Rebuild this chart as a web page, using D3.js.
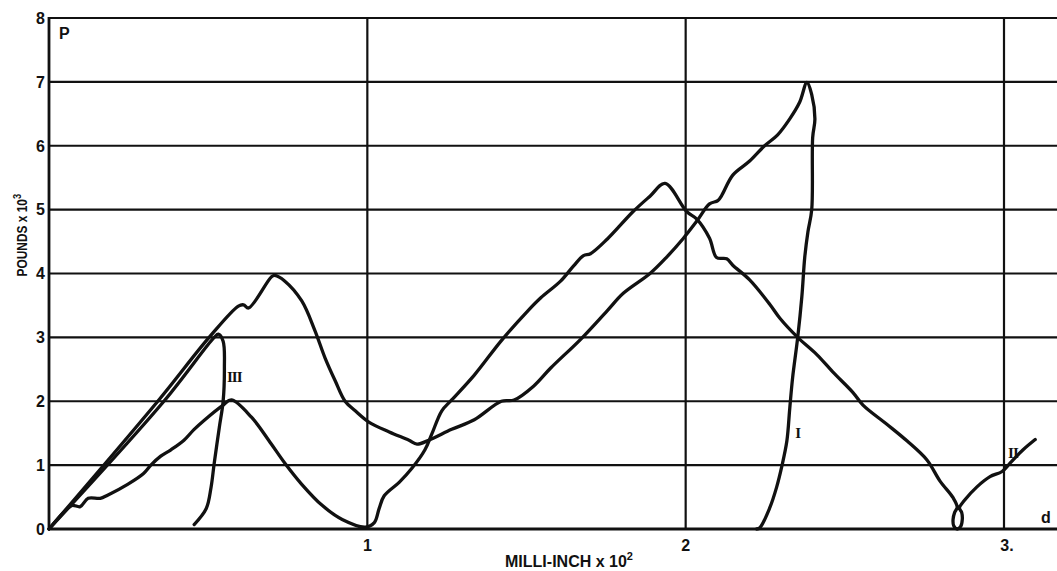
<!DOCTYPE html>
<html>
<head>
<meta charset="utf-8">
<script src="https://cdn.jsdelivr.net/npm/d3@7"></script>
<style>
  html, body { margin: 0; padding: 0; background: #fff; }
  svg { display: block; }
  .tick-label, .axis-title, .corner-label { font-family: "Liberation Sans", Arial, sans-serif; font-weight: bold; fill: #111; }
  .curve-label { font-family: "Liberation Serif", "Times New Roman", serif; font-weight: bold; fill: #111; }
</style>
</head>
<body>
<svg id="chart"></svg>
<script>
// Load (pounds x 10^3) against deflection (milli-inch x 10^2)
const xTicks = [1, 2, 3];
const xTickLabels = ['1', '2', '3.'];
const yTicks = [0, 1, 2, 3, 4, 5, 6, 7, 8];

const curveI = [
  [0, 0], [0.345, 2.02], [0.503, 3.0], [0.595, 3.49], [0.611, 3.51], [0.627, 3.46], [0.699, 3.95],
  [0.709, 3.97], [0.741, 3.88], [0.794, 3.57], [0.835, 3.11], [0.867, 2.68], [0.899, 2.32], [0.930, 2.0],
  [0.962, 1.85], [1.006, 1.67], [1.069, 1.52], [1.131, 1.39], [1.156, 1.33], [1.193, 1.39], [1.265, 1.56],
  [1.336, 1.71], [1.421, 2.0], [1.461, 2.02], [1.523, 2.24], [1.576, 2.52], [1.670, 2.97], [1.754, 3.42],
  [1.804, 3.69], [1.888, 4.0], [1.941, 4.26], [1.991, 4.54], [2.035, 4.82], [2.075, 5.09], [2.101, 5.14],
  [2.113, 5.22], [2.148, 5.54], [2.201, 5.76], [2.248, 6.0], [2.289, 6.17], [2.327, 6.42], [2.358, 6.68],
  [2.381, 6.99], [2.396, 6.8], [2.406, 6.42], [2.399, 6.13], [2.396, 5.0], [2.384, 4.65], [2.374, 4.25],
  [2.365, 3.64], [2.352, 3.0], [2.336, 2.37], [2.327, 1.89], [2.318, 1.38], [2.302, 0.98], [2.286, 0.66],
  [2.264, 0.33], [2.233, 0.02], [2.223, 0]
];

const curveII = [
  [0, 0], [0.05, 0.28], [0.073, 0.37], [0.098, 0.35], [0.123, 0.48], [0.161, 0.48], [0.184, 0.53],
  [0.247, 0.70], [0.297, 0.87], [0.320, 1.0], [0.351, 1.14], [0.383, 1.24], [0.424, 1.39], [0.456, 1.56],
  [0.487, 1.70], [0.547, 1.94], [0.573, 2.02], [0.636, 1.75], [0.690, 1.39], [0.741, 1.03], [0.794, 0.70],
  [0.858, 0.37], [0.921, 0.15], [0.994, 0.03], [1.022, 0.10], [1.037, 0.32], [1.053, 0.52], [1.10, 0.73],
  [1.14, 0.95], [1.181, 1.24], [1.202, 1.48], [1.234, 1.85], [1.265, 2.02], [1.336, 2.41], [1.421, 2.95],
  [1.505, 3.42], [1.545, 3.62], [1.607, 3.88], [1.648, 4.12], [1.679, 4.28], [1.701, 4.31], [1.754, 4.54],
  [1.835, 4.97], [1.888, 5.21], [1.935, 5.41], [2.003, 4.97], [2.035, 4.85], [2.075, 4.55], [2.097, 4.25],
  [2.129, 4.23], [2.148, 4.13], [2.201, 3.90], [2.264, 3.52], [2.296, 3.30], [2.352, 3.0], [2.412, 2.73],
  [2.462, 2.46], [2.525, 2.14], [2.557, 1.94], [2.632, 1.64], [2.695, 1.38], [2.758, 1.08], [2.799, 0.75],
  [2.840, 0.49], [2.853, 0.34], [2.845, 0.26], [2.840, 0.15], [2.842, 0.05], [2.853, 0], [2.864, 0.04],
  [2.869, 0.15], [2.867, 0.26], [2.860, 0.33], [2.876, 0.45], [2.915, 0.66], [2.956, 0.82], [2.994, 0.90],
  [3.019, 1.03], [3.06, 1.24], [3.098, 1.40]
];

const curveIII = [
  [0, 0], [0.361, 2.0], [0.519, 3.0], [0.532, 3.05], [0.547, 2.94], [0.551, 2.52], [0.547, 2.0],
  [0.535, 1.59], [0.519, 1.03], [0.509, 0.65], [0.494, 0.32], [0.456, 0.07]
];

const curveNames = ['I', 'II', 'III'];

class LoadDeflectionChart {

    constructor(_config, _curves) {
        this.config = {
            parentElement: _config.parentElement,
            containerWidth: _config.containerWidth || 1057,
            containerHeight: _config.containerHeight || 571,
            margin: _config.margin || {top: 18, right: 0, bottom: 42, left: 49},
        };
        this.curves = _curves;
        this.initVis();
    }

    initVis() {
        let vis = this;

        vis.width = vis.config.containerWidth - vis.config.margin.left - vis.config.margin.right;
        vis.height = vis.config.containerHeight - vis.config.margin.top - vis.config.margin.bottom;

        // the plate runs off the right edge a little past 3
        vis.xScale = d3.scaleLinear()
            .domain([0, 3])
            .range([0, 955]);

        vis.yScale = d3.scaleLinear()
            .domain([0, 8])
            .range([vis.height, 0]);

        vis.svg = d3.select(vis.config.parentElement)
            .attr('width', vis.config.containerWidth)
            .attr('height', vis.config.containerHeight);

        vis.chart = vis.svg.append('g')
            .attr('transform', `translate(${vis.config.margin.left},${vis.config.margin.top})`);

        vis.line = d3.line()
            .x(d => vis.xScale(d[0]))
            .y(d => vis.yScale(d[1]))
            .curve(d3.curveCatmullRom.alpha(0.5));

        vis.renderVis();
    }

    renderVis() {
        let vis = this;

        // horizontal rules, one per thousand pounds
        vis.chart.selectAll('.h-grid')
            .data(yTicks.filter(d => d > 0))
          .join('line')
            .attr('class', 'h-grid')
            .attr('x1', 0)
            .attr('x2', vis.width)
            .attr('y1', d => vis.yScale(d))
            .attr('y2', d => vis.yScale(d))
            .attr('stroke', '#111')
            .attr('stroke-width', 2.2);

        vis.chart.selectAll('.v-grid')
            .data(xTicks)
          .join('line')
            .attr('class', 'v-grid')
            .attr('x1', d => vis.xScale(d))
            .attr('x2', d => vis.xScale(d))
            .attr('y1', vis.yScale(8))
            .attr('y2', vis.yScale(0))
            .attr('stroke', '#111')
            .attr('stroke-width', 2.2);

        // axes
        vis.chart.append('line')
            .attr('x1', 0).attr('x2', 0)
            .attr('y1', vis.yScale(8) - 1).attr('y2', vis.yScale(0))
            .attr('stroke', '#111')
            .attr('stroke-width', 2.8);

        vis.chart.append('line')
            .attr('x1', 0).attr('x2', vis.width)
            .attr('y1', vis.yScale(0)).attr('y2', vis.yScale(0))
            .attr('stroke', '#111')
            .attr('stroke-width', 3.2);

        vis.chart.selectAll('.y-label')
            .data(yTicks)
          .join('text')
            .attr('class', 'tick-label y-label')
            .attr('x', -4)
            .attr('y', d => vis.yScale(d))
            .attr('dy', '0.36em')
            .attr('text-anchor', 'end')
            .attr('font-size', 16)
            .text(d => d);

        vis.chart.selectAll('.x-label')
            .data(xTicks)
          .join('text')
            .attr('class', 'tick-label x-label')
            .attr('x', (d, i) => vis.xScale(d) + (i === 2 ? 3 : 0))
            .attr('y', vis.yScale(0) + 22)
            .attr('text-anchor', 'middle')
            .attr('font-size', 16)
            .text((d, i) => xTickLabels[i]);

        // axis titles
        const xTitle = vis.chart.append('text')
            .attr('class', 'axis-title')
            .attr('x', 520)
            .attr('y', vis.yScale(0) + 38)
            .attr('text-anchor', 'middle')
            .attr('font-size', 16);
        xTitle.append('tspan').text('MILLI-INCH x 10');
        xTitle.append('tspan').attr('font-size', 11).attr('dy', -7).text('2');

        const yTitle = vis.chart.append('text')
            .attr('class', 'axis-title')
            .attr('transform', `translate(-22,${vis.yScale(4.6)}) rotate(-90) scale(0.85,1)`)
            .attr('text-anchor', 'middle')
            .attr('font-size', 14);
        yTitle.append('tspan').text('POUNDS x 10');
        yTitle.append('tspan').attr('font-size', 11).attr('dy', -6).text('3');

        vis.chart.append('text')
            .attr('class', 'corner-label')
            .attr('x', 10)
            .attr('y', vis.yScale(8) + 21)
            .attr('font-size', 16)
            .text('P');

        vis.chart.append('text')
            .attr('class', 'corner-label')
            .attr('x', vis.width - 16)
            .attr('y', vis.yScale(0) - 6)
            .attr('font-size', 16)
            .text('d');

        // the three load cycles
        vis.chart.selectAll('.curve')
            .data(vis.curves)
          .join('path')
            .attr('class', 'curve')
            .attr('d', d => vis.line(d))
            .attr('fill', 'none')
            .attr('stroke', '#111')
            .attr('stroke-width', 3.3)
            .attr('stroke-linejoin', 'round')
            .attr('stroke-linecap', 'round');

        // roman numerals sit beside the unloading branches
        const labelSpots = [[2.352, 1.5], [3.028, 1.2], [0.582, 2.38]];
        vis.chart.selectAll('.curve-label')
            .data(curveNames)
          .join('text')
            .attr('class', 'curve-label')
            .attr('x', (d, i) => vis.xScale(labelSpots[i][0]))
            .attr('y', (d, i) => vis.yScale(labelSpots[i][1]))
            .attr('dy', '0.35em')
            .attr('text-anchor', 'middle')
            .attr('font-size', 15)
            .attr('letter-spacing', -1)
            .text(d => d);
    }
}

new LoadDeflectionChart({parentElement: '#chart'}, [curveI, curveII, curveIII]);
</script>
</body>
</html>
